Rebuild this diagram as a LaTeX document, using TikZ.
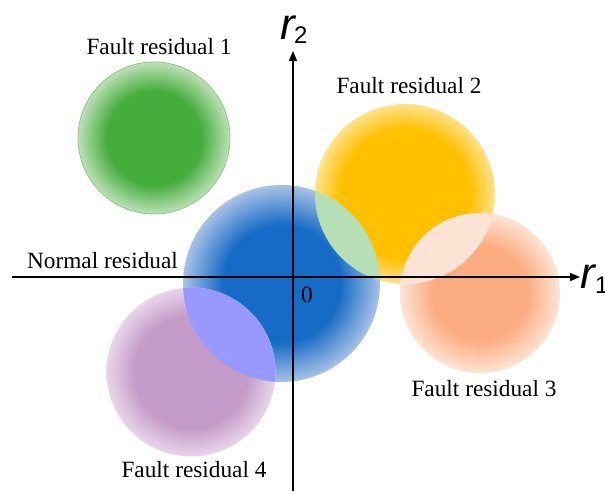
\documentclass[tikz,border=0pt]{standalone}
\usepackage{fontspec}
\setmainfont{Liberation Serif}
\newfontfamily\arialfont{Liberation Sans}
\usetikzlibrary{arrows.meta}
\definecolor{gcore}{RGB}{68,173,60}
\definecolor{gedge}{RGB}{188,224,183}
\definecolor{gline}{RGB}{140,200,132}
\definecolor{ycore}{RGB}{255,192,0}
\definecolor{yedge}{RGB}{255,226,140}
\definecolor{bcore}{RGB}{21,107,197}
\definecolor{bedge}{RGB}{168,194,230}
\definecolor{ocore}{RGB}{251,172,128}
\definecolor{oedge}{RGB}{253,228,213}
\definecolor{pcore}{RGB}{196,155,200}
\definecolor{pedge}{RGB}{232,214,234}
\definecolor{lensgy}{RGB}{183,223,181}
\definecolor{lensoy}{RGB}{253,227,211}
\definecolor{lensbp}{RGB}{152,152,255}
\pgfdeclareradialshading{gball}{\pgfpoint{0bp}{0bp}}{color(0bp)=(gcore); color(15.5bp)=(gcore); color(25bp)=(gedge); color(50bp)=(gedge)}
\pgfdeclareradialshading{yball}{\pgfpoint{0bp}{0bp}}{color(0bp)=(ycore); color(18bp)=(ycore); color(25bp)=(yedge); color(50bp)=(yedge)}
\pgfdeclareradialshading{bball}{\pgfpoint{0bp}{0bp}}{color(0bp)=(bcore); color(14.8bp)=(bcore); color(25bp)=(bedge); color(50bp)=(bedge)}
\pgfdeclareradialshading{oball}{\pgfpoint{0bp}{0bp}}{color(0bp)=(ocore); color(14.8bp)=(ocore); color(25bp)=(oedge); color(50bp)=(oedge)}
\pgfdeclareradialshading{pball}{\pgfpoint{0bp}{0bp}}{color(0bp)=(pcore); color(16.7bp)=(pcore); color(25bp)=(pedge); color(50bp)=(pedge)}
\tikzset{
  lbl/.style={inner sep=0pt, anchor=base, font=\fontsize{23.3}{28}\selectfont},
  axisline/.style={line width=1.6pt, -{Triangle[length=10pt,width=8pt]}},
  rletter/.style={inner sep=0pt, anchor=base west, font=\arialfont\itshape\fontsize{44}{44}\selectfont},
  rsub/.style={inner sep=0pt, anchor=base west, font=\arialfont\fontsize{24}{24}\selectfont}
}
\begin{document}
\begin{tikzpicture}[x=1pt,y=-1pt]
\useasboundingbox (0,0) rectangle (605,491);
% circles
\shade[shading=gball] (154,138) circle (76pt);
\draw[gline, line width=0.8pt] (154,138) circle (76pt);
\shade[shading=yball] (405,194) circle (90pt);
\shade[shading=bball] (281.5,283.5) circle (98.5pt);
\shade[shading=oball] (480,293) circle (80pt);
\shade[shading=pball] (191,372) circle (84.5pt);
% overlaps
\begin{scope}
  \clip (405,194) circle (90pt);
  \fill[lensgy] (281.5,283.5) circle (98.5pt);
\end{scope}
\begin{scope}
  \clip (405,194) circle (90pt);
  \fill[lensoy] (480,293) circle (80pt);
\end{scope}
\begin{scope}
  \clip (281.5,283.5) circle (98.5pt);
  \fill[lensbp] (191,372) circle (84.5pt);
\end{scope}
% axes
\coordinate (xs) at (12,277);
\coordinate (xe) at (580,277);
\coordinate (ys) at (293,491);
\coordinate (ye) at (293,51);
\draw[axisline] (xs) -- (xe);
\draw[axisline] (ys) -- (ye);
% labels
\node[lbl] (f1) at (159,54) {Fault residual 1};
\node[lbl] (f2) at (409,93) {Fault residual 2};
\node[lbl] (f3) at (484,396) {Fault residual 3};
\node[lbl] (f4) at (194,477) {Fault residual 4};
\node[lbl] (nr) at (102.5,268) {Normal residual};
\node[lbl] (zero) at (307,302) {0};
\node[rletter] (r2) at (280,39) {r};
\node[rsub] (r2s) at (294,43) {2};
\node[rletter] (r1) at (580,288) {r};
\node[rsub] (r1s) at (595,293) {1};
\end{tikzpicture}
\end{document}
